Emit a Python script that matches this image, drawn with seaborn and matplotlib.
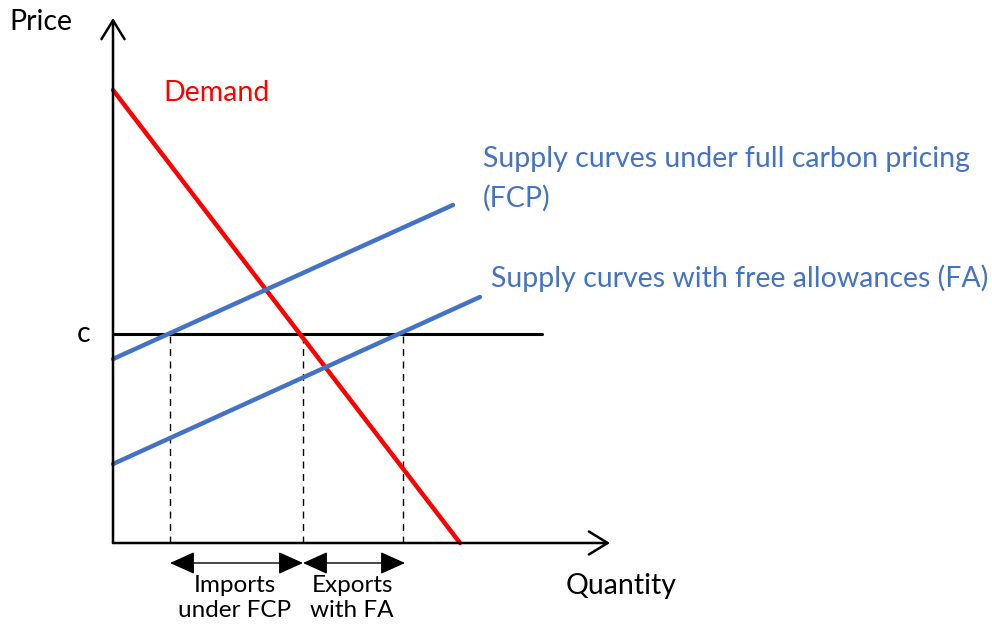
import numpy as np
import pandas as pd
import seaborn as sns
import matplotlib.pyplot as plt

# Data (quantity, price) in diagram units
demand_q = [0, 347]
demand_p = [453, 0]
fcp_q = [0, 340]
fcp_p = [184, 338]
fa_q = [0, 367]
fa_p = [79, 246]
c_price = 209
c_q = [0, 429]
cross_q = [57, 190, 290]   # dashed drop lines
imports_span = [57, 190]
exports_span = [190, 292]

sns.set_theme(style="white")
plt.rcParams['font.family'] = ['Lato', 'DejaVu Sans']

fig = plt.figure(figsize=(9.92, 6.24), dpi=100)
ax = fig.add_axes([0, 0, 1, 1])
ax.set_xlim(-113, 879)
ax.set_ylim(-81, 543)
ax.axis('off')

blue = '#4472C4'
lines = pd.DataFrame({
    'q': demand_q + fcp_q + fa_q,
    'p': demand_p + fcp_p + fa_p,
    'curve': ['Demand'] * 2 + ['FCP'] * 2 + ['FA'] * 2,
})
sns.lineplot(data=lines, x='q', y='p', hue='curve', units='curve', estimator=None,
             palette={'Demand': '#FF0000', 'FCP': blue, 'FA': blue},
             linewidth=3.2, legend=False, ax=ax, zorder=3)

# c line
ax.plot(c_q, [c_price, c_price], color='black', lw=2.2, zorder=2)
for q in cross_q:
    ax.plot([q, q], [0, c_price], color='black', lw=1, ls=(0, (5, 4)), zorder=1)

# axes with open arrow heads
axis_arrow = dict(arrowstyle='->,head_length=1.35,head_width=0.83', lw=1.8,
                  color='black', mutation_scale=10, shrinkA=0, shrinkB=0)
ax.annotate('', xy=(0, 525), xytext=(0, 0), arrowprops=axis_arrow)
ax.annotate('', xy=(497, 0), xytext=(0, 0), arrowprops=axis_arrow)

# double-headed span arrows
for span in (imports_span, exports_span):
    ax.annotate('', xy=(span[1], -20), xytext=(span[0], -20),
                arrowprops=dict(arrowstyle='<|-|>,head_length=1.55,head_width=0.7', lw=1,
                                color='black', mutation_scale=10, shrinkA=0, shrinkB=0))

fs = 20.5
ax.text(-72, 521, 'Price', fontsize=fs, ha='center', va='center', color='black')
ax.text(-29, 209, 'c', fontsize=fs, ha='center', va='center', color='black')
ax.text(104, 450, 'Demand', fontsize=fs, ha='center', va='center', color='#FF0000')
ax.text(370, 364, 'Supply curves under full carbon pricing\n(FCP)', fontsize=fs,
        ha='left', va='center', color=blue, linespacing=1.57)
ax.text(378, 265, 'Supply curves with free allowances (FA)', fontsize=fs,
        ha='left', va='center', color=blue)
ax.text(508, -43, 'Quantity', fontsize=fs, ha='center', va='center', color='black')
ax.text(122, -55, 'Imports\nunder FCP', fontsize=17.5, ha='center', va='center',
        color='black', linespacing=1.21)
ax.text(239, -55, 'Exports\nwith FA', fontsize=17.5, ha='center', va='center',
        color='black', linespacing=1.21)

fig.savefig('out.png', dpi=100)
